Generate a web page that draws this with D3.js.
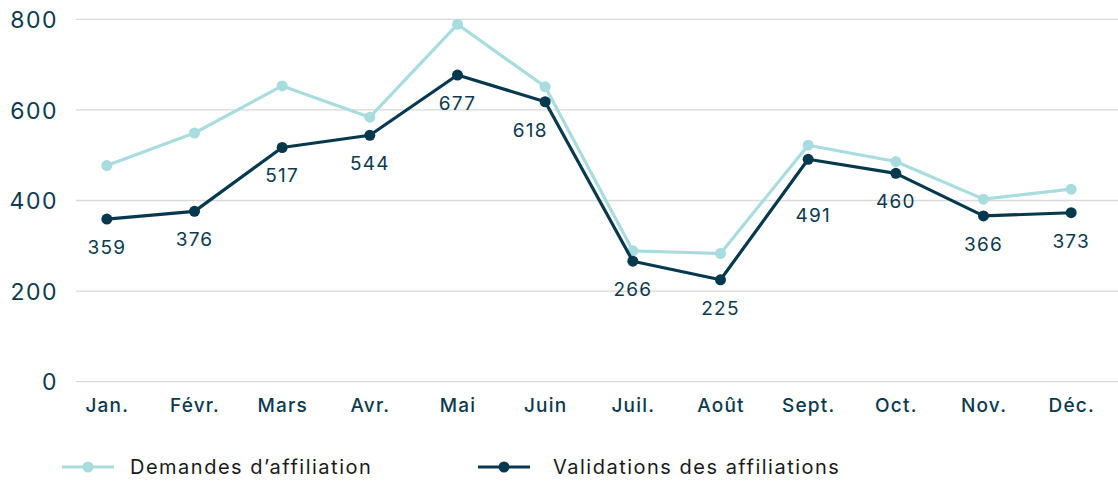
<!DOCTYPE html>
<html>
<head>
<meta charset="utf-8">
<script src="https://cdn.jsdelivr.net/npm/d3@7"></script>
<style>
  body { margin: 0; background: #fff; }
  svg text { font-family: "Inter", "Noto Sans", sans-serif; fill: #0b3a4f; }
</style>
</head>
<body>
<div class="chart"></div>
<script>
// données
var months = ["Jan.", "Févr.", "Mars", "Avr.", "Mai", "Juin", "Juil.", "Août", "Sept.", "Oct.", "Nov.", "Déc."]
var demandes = [477, 549, 653, 584, 789, 651, 289, 283, 522, 486, 403, 425]
var validations = [359, 376, 517, 544, 677, 618, 266, 225, 491, 460, 366, 373]
var yTicks = [0, 200, 400, 600, 800]
var seriesNames = ["Demandes d\u2019affiliation", "Validations des affiliations"]

var width = 1118, height = 482
var light = "#a8dcdf", dark = "#06394d"

var svg = d3.select(".chart").append("svg")
    .attr("width", width)
    .attr("height", height)

var x = d3.scalePoint().domain(months).range([63, 1115]).padding(0.5)
var y = d3.scaleLinear().domain([0, 800]).range([381.7, 19.3])

// grille
svg.append("g")
  .selectAll("line")
  .data(yTicks)
  .enter().append("line")
    .attr("x1", 76).attr("x2", width)
    .attr("y1", function(d) { return y(d) }).attr("y2", function(d) { return y(d) })
    .attr("stroke", "#d9d9d9").attr("stroke-width", 1.3)

// axe y
var yAxis = svg.append("g")
    .attr("transform", "translate(58,0)")
    .call(d3.axisLeft(y).tickValues(yTicks).tickSize(0).tickPadding(0))
yAxis.select(".domain").remove()
yAxis.selectAll("text")
    .attr("font-size", 23).attr("letter-spacing", 1.5)
    .attr("fill", dark).attr("dy", "0.36em")

// axe x
var xAxis = svg.append("g")
    .attr("transform", "translate(0,395)")
    .call(d3.axisBottom(x).tickSize(0).tickPadding(0))
xAxis.select(".domain").remove()
xAxis.selectAll("text")
    .attr("font-size", 19).attr("font-weight", 500).attr("letter-spacing", 1.2)
    .attr("fill", dark).attr("dy", "0.9em")

var line = d3.line()
    .x(function(d, i) { return x(months[i]) })
    .y(function(d) { return y(d) })

function drawSeries(values, color) {
  svg.append("path")
      .datum(values)
      .attr("d", line)
      .attr("fill", "none")
      .attr("stroke", color)
      .attr("stroke-width", 3.2)
      .attr("stroke-linejoin", "round")
  svg.append("g")
    .selectAll("circle")
    .data(values)
    .enter().append("circle")
      .attr("cx", function(d, i) { return x(months[i]) })
      .attr("cy", function(d) { return y(d) })
      .attr("r", 5.5)
      .attr("fill", color)
}
drawSeries(demandes, light)
drawSeries(validations, dark)

// étiquettes (quelques décalages pour éviter les chevauchements)
var nudge = { 5: [-15, 0], 8: [5, 28] }
svg.append("g")
  .selectAll("text")
  .data(validations)
  .enter().append("text")
    .attr("x", function(d, i) { return x(months[i]) + (nudge[i] ? nudge[i][0] : 0) })
    .attr("y", function(d, i) { return y(d) + 35 + (nudge[i] ? nudge[i][1] : 0) })
    .attr("text-anchor", "middle")
    .attr("font-size", 19)
    .attr("letter-spacing", 1.2)
    .text(function(d) { return d })

// légende
var legend = svg.append("g").attr("transform", "translate(0,467)")
var items = [
  { name: seriesNames[0], color: light, x: 62, tx: 130 },
  { name: seriesNames[1], color: dark, x: 478, tx: 553 }
]
items.forEach(function(it) {
  legend.append("line")
      .attr("x1", it.x).attr("x2", it.x + 52)
      .attr("stroke", it.color).attr("stroke-width", 3.2)
  legend.append("circle")
      .attr("cx", it.x + 26).attr("r", 5.5).attr("fill", it.color)
  legend.append("text")
      .attr("x", it.tx).attr("dy", "0.35em")
      .attr("font-size", 20)
      .attr("letter-spacing", 1.5)
      .style("fill", "#1a1a1a")
      .text(it.name)
})
</script>
</body>
</html>
